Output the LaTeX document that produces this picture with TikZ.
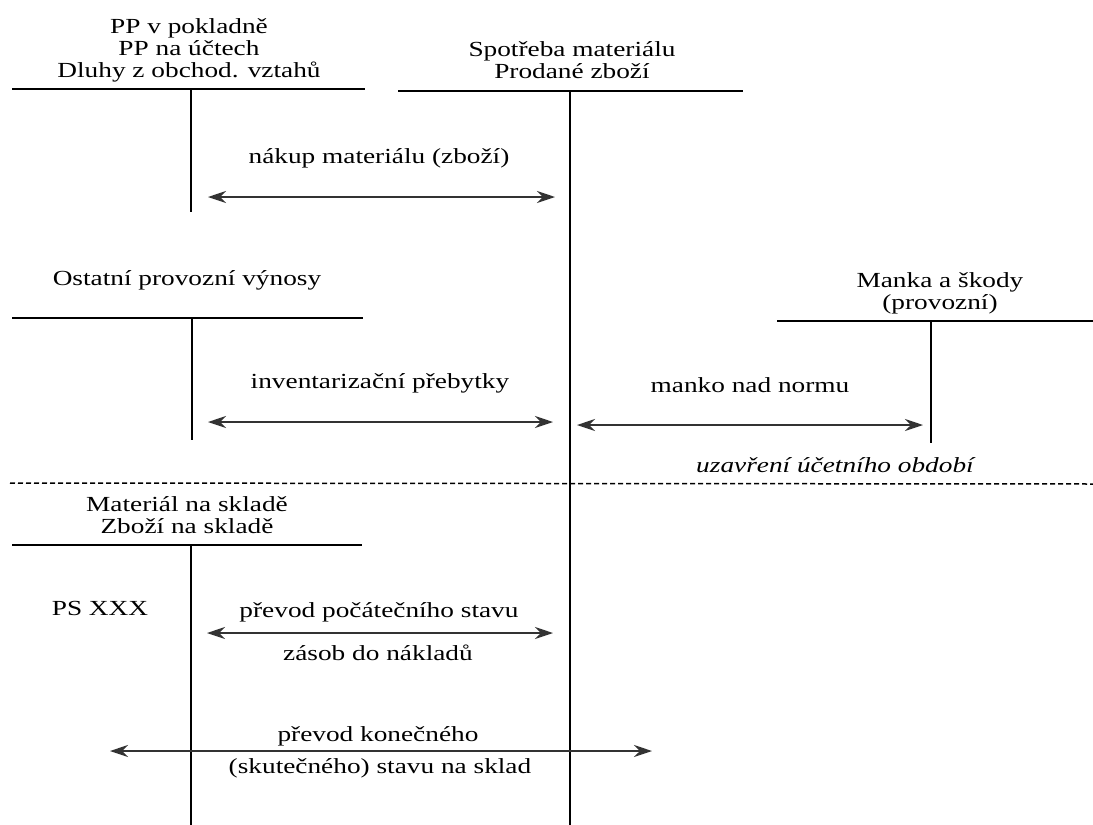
\documentclass[tikz,border=0pt]{standalone}
\usepackage{fontspec}
\setmainfont{Liberation Serif}[FakeStretch=1.27]
\usetikzlibrary{arrows.meta}
\begin{document}
\begin{tikzpicture}[x=1pt,y=-1pt,
  lbl/.style={anchor=base, inner sep=0pt, font=\fontsize{21.5}{22}\selectfont},
  ilbl/.style={lbl, font=\fontsize{21.5}{22}\selectfont\itshape},
  tline/.style={line width=2.4pt, line cap=butt},
  vline/.style={line width=2pt},
  sep/.style={line width=1.5pt, dash pattern=on 5pt off 3pt},
  conn/.style={line width=1.6pt, draw=black!80, fill=black!80,
    {Stealth[length=18pt,width=12pt,inset=6pt]}-{Stealth[length=18pt,width=12pt,inset=6pt]}}
  ]
\useasboundingbox (0,0) rectangle (1093,825);
\fill[white] (0,0) rectangle (1093,825);

% account: PP v pokladne
\node[lbl] (t1a) at (189,33) {PP v pokladně};
\node[lbl] (t1b) at (189,55) {PP na účtech};
\node[lbl] (t1c) at (189,77) {Dluhy z obchod. vztahů};
\coordinate (h1l) at (12,89); \coordinate (h1r) at (365,89);
\coordinate (v1t) at (191,89); \coordinate (v1b) at (191,212);
\draw[tline] (h1l) -- (h1r);
\draw[vline] (v1t) -- (v1b);

% account: Spotreba
\node[lbl] (t2a) at (572,56) {Spotřeba materiálu};
\node[lbl] (t2b) at (572,78) {Prodané zboží};
\coordinate (h2l) at (398,91); \coordinate (h2r) at (743,91);
\coordinate (v2t) at (570,91); \coordinate (v2b) at (570,825);
\draw[tline] (h2l) -- (h2r);
\draw[vline] (v2t) -- (v2b);

% arrow 1
\node[lbl] (l1) at (379,163) {nákup materiálu (zboží)};
\coordinate (a1l) at (208,197); \coordinate (a1r) at (555,197);
\draw[conn] (a1l) -- (a1r);

% account: Ostatni provozni vynosy
\node[lbl] (t3) at (187,285) {Ostatní provozní výnosy};
\coordinate (h3l) at (12,318); \coordinate (h3r) at (363,318);
\coordinate (v3t) at (192,318); \coordinate (v3b) at (192,440);
\draw[tline] (h3l) -- (h3r);
\draw[vline] (v3t) -- (v3b);

% arrow 2
\node[lbl] (l2) at (380,388) {inventarizační přebytky};
\coordinate (a2l) at (208,422); \coordinate (a2r) at (553,422);
\draw[conn] (a2l) -- (a2r);

% account: Manka a skody
\node[lbl] (t4a) at (940,287) {Manka a škody};
\node[lbl] (t4b) at (940,309) {(provozní)};
\coordinate (h4l) at (777,321); \coordinate (h4r) at (1093,321);
\coordinate (v4t) at (931,321); \coordinate (v4b) at (931,443);
\draw[tline] (h4l) -- (h4r);
\draw[vline] (v4t) -- (v4b);

% arrow 3
\node[lbl] (l3) at (750,392) {manko nad normu};
\coordinate (a3l) at (577,425); \coordinate (a3r) at (923,425);
\draw[conn] (a3l) -- (a3r);

% closing of period
\node[ilbl] (l4) at (835,472) {uzavření účetního období};
\coordinate (dl) at (10,483); \coordinate (dr) at (1093,484);
\draw[sep] (dl) -- (dr);

% account: Material na sklade
\node[lbl] (t5a) at (187,511) {Materiál na skladě};
\node[lbl] (t5b) at (187,533) {Zboží na skladě};
\coordinate (h5l) at (12,545); \coordinate (h5r) at (362,545);
\coordinate (v5t) at (191,545); \coordinate (v5b) at (191,825);
\draw[tline] (h5l) -- (h5r);
\draw[vline] (v5t) -- (v5b);
\node[lbl] (ps) at (100,615) {PS XXX};

% arrow 4
\node[lbl] (l5a) at (379,617) {převod počátečního stavu};
\node[lbl] (l5b) at (378,660) {zásob do nákladů};
\coordinate (a4l) at (207,633); \coordinate (a4r) at (553,633);
\draw[conn] (a4l) -- (a4r);

% arrow 5
\node[lbl] (l6a) at (378,741) {převod konečného};
\node[lbl] (l6b) at (380,773) {(skutečného) stavu na sklad};
\coordinate (a5l) at (110,751); \coordinate (a5r) at (652,751);
\draw[conn] (a5l) -- (a5r);
\end{tikzpicture}
\end{document}
